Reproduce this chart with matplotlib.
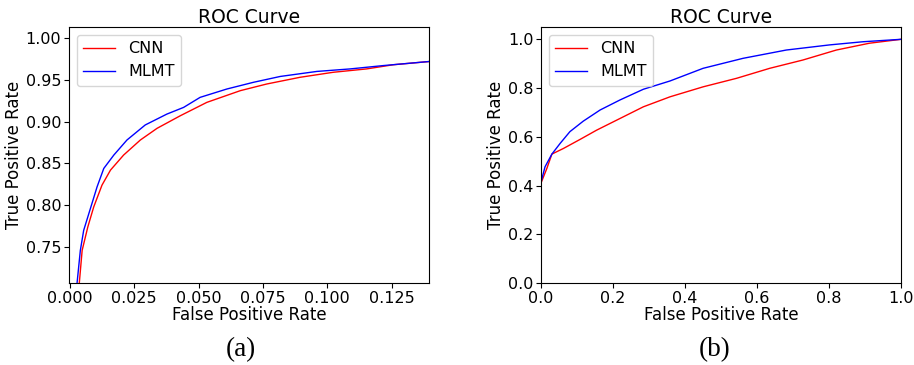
import matplotlib
matplotlib.use('Agg')
import matplotlib.pyplot as plt

# (a) zoomed-in ROC
fpr_a_cnn = [0.0035, 0.0048, 0.0070, 0.0093, 0.0125, 0.0158, 0.0209, 0.0274, 0.0339,
             0.0429, 0.0532, 0.0662, 0.0765, 0.0894, 0.1023, 0.1152, 0.1256, 0.1400]
tpr_a_cnn = [0.700, 0.746, 0.774, 0.798, 0.824, 0.842, 0.860, 0.878, 0.892,
             0.907, 0.923, 0.937, 0.945, 0.953, 0.959, 0.963, 0.968, 0.972]
fpr_a_mlmt = [0.0026, 0.0041, 0.0054, 0.0074, 0.0106, 0.0132, 0.0171, 0.0222, 0.0293,
              0.0377, 0.0442, 0.0506, 0.0610, 0.0713, 0.0817, 0.0959, 0.1088, 0.1217, 0.1400]
tpr_a_mlmt = [0.700, 0.746, 0.770, 0.790, 0.822, 0.844, 0.860, 0.878, 0.896,
              0.909, 0.917, 0.929, 0.939, 0.947, 0.954, 0.960, 0.963, 0.967, 0.972]

# (b) full ROC
fpr_b_cnn = [0.0, 0.0, 0.016, 0.030, 0.062, 0.108, 0.154, 0.219, 0.284, 0.358,
             0.450, 0.543, 0.635, 0.727, 0.820, 0.912, 1.0]
tpr_b_cnn = [0.0, 0.411, 0.470, 0.529, 0.552, 0.589, 0.627, 0.675, 0.723, 0.764,
             0.805, 0.840, 0.881, 0.915, 0.956, 0.984, 1.0]
fpr_b_mlmt = [0.0, 0.0, 0.011, 0.030, 0.053, 0.080, 0.117, 0.164, 0.219, 0.284,
              0.358, 0.450, 0.561, 0.681, 0.801, 0.894, 1.0]
tpr_b_mlmt = [0.0, 0.415, 0.477, 0.529, 0.573, 0.621, 0.664, 0.710, 0.751, 0.795,
              0.829, 0.881, 0.922, 0.956, 0.977, 0.990, 1.0]

fig = plt.figure(figsize=(9.14, 3.65), dpi=100)
ax1 = fig.add_axes([0.0755, 0.2247, 0.394, 0.701])
ax2 = fig.add_axes([0.592, 0.2247, 0.394, 0.701])


def roc_panel(ax, fc, tc, fm, tm):
    ax.plot(fc, tc, color='red', lw=1, label='CNN')
    ax.plot(fm, tm, color='blue', lw=1, label='MLMT')
    ax.set_title('ROC Curve', fontsize=13.5, pad=2)
    ax.set_xlabel('False Positive Rate', fontsize=12, labelpad=0)
    ax.set_ylabel('True Positive Rate', fontsize=12, labelpad=2)
    ax.tick_params(labelsize=11.5, pad=2)
    ax.legend(loc='upper left', fontsize=11.5)


roc_panel(ax1, fpr_a_cnn, tpr_a_cnn, fpr_a_mlmt, tpr_a_mlmt)
ax1.set_xlim(-0.0003, 0.1395)
ax1.set_ylim(0.707, 1.013)
ax1.set_xticks([0.0, 0.025, 0.05, 0.075, 0.1, 0.125])
ax1.set_yticks([0.75, 0.80, 0.85, 0.90, 0.95, 1.00])

roc_panel(ax2, fpr_b_cnn, tpr_b_cnn, fpr_b_mlmt, tpr_b_mlmt)
ax2.set_xlim(0, 1)
ax2.set_ylim(0, 1.05)
ax2.set_xticks([0.0, 0.2, 0.4, 0.6, 0.8, 1.0])
ax2.set_yticks([0.0, 0.2, 0.4, 0.6, 0.8, 1.0])

fig.text(0.264, 0.041, '(a)', family='Liberation Serif', fontsize=19.5,
         ha='center', va='center')
fig.text(0.782, 0.041, '(b)', family='Liberation Serif', fontsize=19.5,
         ha='center', va='center')

fig.savefig('out.png', dpi=100)
